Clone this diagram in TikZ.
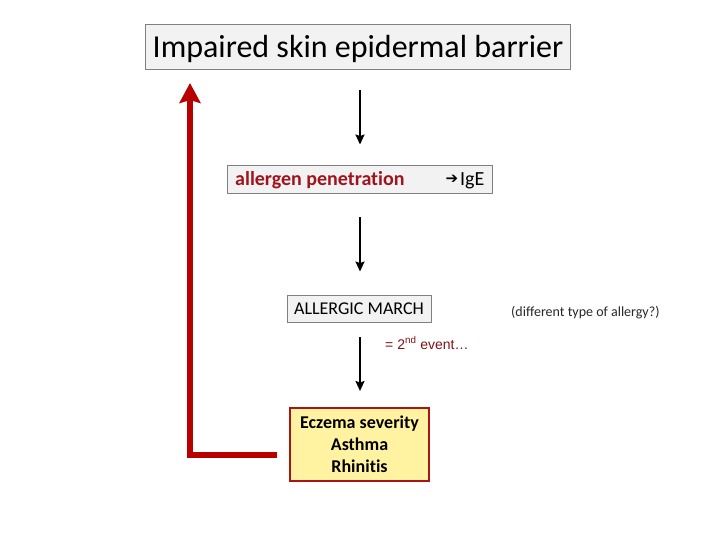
\documentclass[tikz,border=0pt]{standalone}
\usepackage{fontspec}
\usepackage{graphicx}
\setmainfont{Carlito}[Ligatures=NoCommon]
\newfontfamily\arialf{Liberation Sans}
\newfontfamily\djv{DejaVu Sans}
\usetikzlibrary{arrows.meta}
\definecolor{boxgray}{RGB}{242,242,242}
\definecolor{bordergray}{RGB}{128,128,128}
\definecolor{txtred}{RGB}{160,20,30}
\definecolor{evred}{RGB}{128,20,20}
\definecolor{linered}{RGB}{185,0,0}
\definecolor{eczfill}{RGB}{255,242,160}
\definecolor{eczborder}{RGB}{170,20,20}
\definecolor{difftext}{RGB}{40,40,40}
\tikzset{
  graybox/.style={draw=bordergray, fill=boxgray, line width=0.9pt, inner sep=0pt},
  eczbox/.style={draw=eczborder, fill=eczfill, line width=2pt, inner sep=0pt, align=center},
  plaintext/.style={inner sep=0pt},
  blkarrow/.style={line width=1.8pt, -{Stealth[length=10pt,width=9pt,inset=1.5pt]}},
  redarrow/.style={draw=linered, line width=5.5pt, line join=miter, -{Stealth[length=20pt,width=21pt,inset=3pt]}}
}
\begin{document}
\begin{tikzpicture}[x=1pt,y=-1pt]
\useasboundingbox (0,0) rectangle (720,540);
\fill[white] (0,0) rectangle (720,540);

\node[graybox, minimum width=425pt, minimum height=45pt] (title) at (357.5,46.5) {};
\node[plaintext, anchor=base] (titletxt) at (358,57.5)
  {\fontsize{32}{36}\selectfont Impaired skin epidermal barrier};

\node[graybox, minimum width=265pt, minimum height=28pt] (allg) at (359.5,179) {};
\node[plaintext, anchor=base west] (pen) at (235,186)
  {\fontsize{20}{24}\selectfont\bfseries\color{txtred}allergen penetration};
\node[plaintext, anchor=base west] (arr) at (445.5,183.5)
  {\djv\fontsize{15}{17}\selectfont ➔};
\node[plaintext, anchor=base west] (ige) at (460,186)
  {\fontsize{20}{24}\selectfont IgE};

\node[graybox, minimum width=144pt, minimum height=27pt] (march) at (359,308.5)
  {\fontsize{18}{22}\selectfont ALLERGIC MARCH};

\node[plaintext, anchor=west] (diff) at (511,313)
  {\fontsize{14}{16}\selectfont\color{difftext}(different type of allergy?)};

\node[plaintext, anchor=west] (ev) at (385,343)
  {\arialf\fontsize{14}{16}\selectfont\color{evred}= 2\textsuperscript{nd} event\ldots};

\node[eczbox, minimum width=139pt, minimum height=73pt, font=\fontsize{18}{22}\selectfont\bfseries] (ecz) at (359.5,444.5)
  {Eczema severity\\Asthma\\Rhinitis};

\draw[blkarrow, shorten <=21pt, shorten >=20pt] ([xshift=2.5pt]title.south) -- ([xshift=0.5pt]allg.north);
\draw[blkarrow, shorten <=24pt, shorten >=23pt] ([xshift=0.5pt]allg.south) -- ([xshift=1pt]march.north);
\draw[blkarrow, shorten <=15pt, shorten >=16pt] ([xshift=1pt]march.south) -- ([xshift=0.5pt]ecz.north);

\coordinate (rs) at (277,455);
\coordinate (rt) at (190,83);
\draw[redarrow] (rs) -| (rt);
\end{tikzpicture}
\end{document}
